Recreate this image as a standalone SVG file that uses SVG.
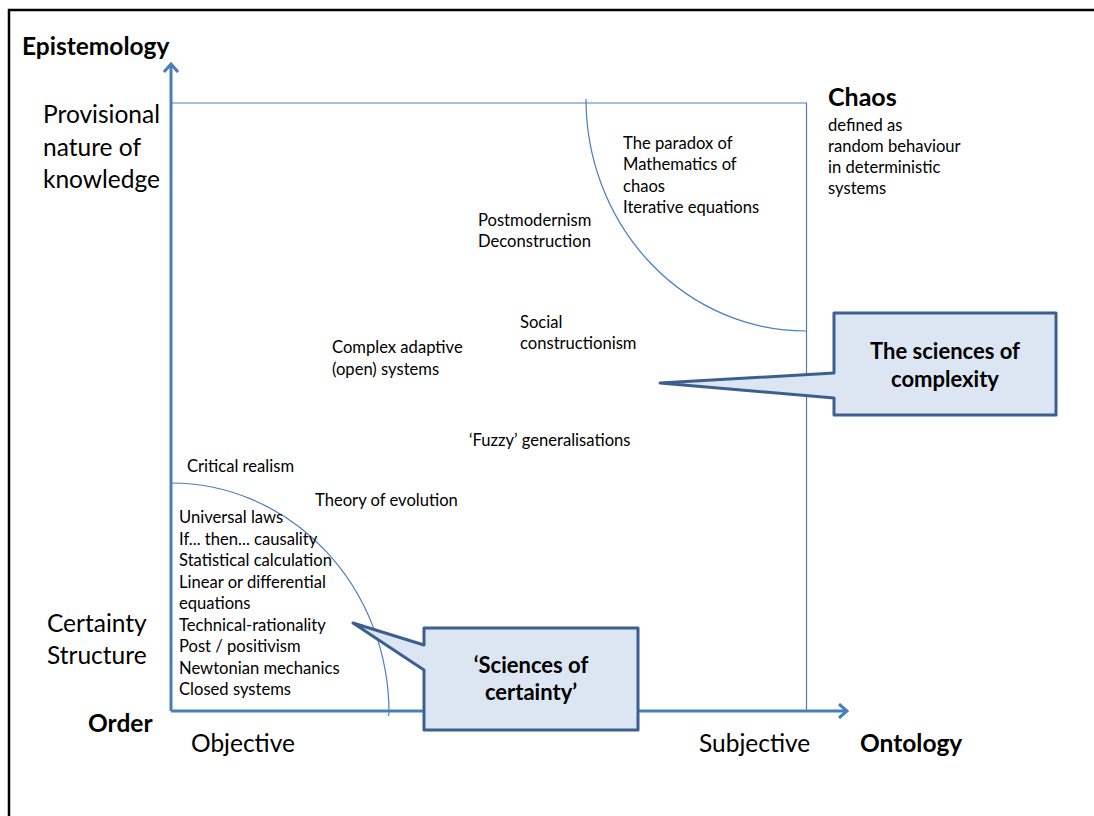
<svg xmlns="http://www.w3.org/2000/svg" width="1094" height="816" viewBox="0 0 1094 816">
  <style>
    text { font-family: Lato, "Liberation Sans", sans-serif; fill: #000; }
    .sm { font-size: 16.6px; }
    .lg { font-size: 24.5px; }
    .bl { font-size: 24.5px; font-weight: bold; }
    .axis { stroke: #4a7ebb; stroke-width: 3; fill: none; }
    .thin { stroke: #4a7ebb; stroke-width: 1.2; fill: none; }
    .callout { fill: #dce6f2; stroke: #3d5f8f; stroke-width: 3; stroke-linejoin: round; }
    .ctext { font-size: 22px; font-weight: bold; text-anchor: middle; }
  </style>
  <defs>
    <marker id="chev" viewBox="0 0 12 16" refX="10" refY="8" markerWidth="12" markerHeight="16" markerUnits="userSpaceOnUse" orient="auto">
      <path d="M2,1 L10,8 L2,15" fill="none" stroke="#4a7ebb" stroke-width="3"/>
    </marker>
  </defs>

  <rect width="1094" height="816" fill="#fff"/>

  <!-- page frame -->
  <path d="M9,816 V10 H1094" fill="none" stroke="#000" stroke-width="2.5"/>

  <g id="connectors">
    <!-- quadrant outline and boundary arcs -->
    <path class="thin" d="M171,103 H806.5 V711"/>
    <path class="thin" d="M586,99 A220,232 0 0 0 806.5,331"/>
    <path class="thin" d="M171,483 A218,230 0 0 1 389,713 L388.5,716"/>
    <!-- axes -->
    <line id="y-axis" class="axis" x1="171" y1="711" x2="171" y2="64" marker-end="url(#chev)"/>
    <line id="x-axis" class="axis" x1="171" y1="711" x2="847" y2="711" marker-end="url(#chev)"/>
  </g>

  <!-- axis labels -->
  <g id="axis-labels">
    <text class="bl" x="22" y="55">Epistemology</text>
    <text class="lg" x="43" y="123">Provisional</text>
    <text class="lg" x="43" y="156">nature of</text>
    <text class="lg" x="43" y="188">knowledge</text>
    <text class="lg" x="47" y="632">Certainty</text>
    <text class="lg" x="47" y="664">Structure</text>
    <text class="bl" x="88" y="732">Order</text>
    <text class="lg" x="191" y="752">Objective</text>
    <text class="lg" x="699" y="752">Subjective</text>
    <text class="bl" x="860" y="752">Ontology</text>
  </g>

  <g id="chaos">
    <text x="828" y="106" font-size="25" font-weight="bold">Chaos</text>
    <text class="sm" x="828" y="131">defined as</text>
    <text class="sm" x="828" y="152">random behaviour</text>
    <text class="sm" x="828" y="173">in deterministic</text>
    <text class="sm" x="828" y="194">systems</text>
  </g>

  <g id="chaos-maths">
    <text class="sm" x="623" y="149">The paradox of</text>
    <text class="sm" x="623" y="170">Mathematics of</text>
    <text class="sm" x="623" y="192">chaos</text>
    <text class="sm" x="623" y="213">Iterative equations</text>
  </g>

  <g id="postmodernism">
    <text class="sm" x="478" y="226">Postmodernism</text>
    <text class="sm" x="478" y="247">Deconstruction</text>
  </g>

  <g id="social-constructionism">
    <text class="sm" x="520" y="328">Social</text>
    <text class="sm" x="520" y="349">constructionism</text>
  </g>

  <g id="complex-adaptive">
    <text class="sm" x="332" y="353">Complex adaptive</text>
    <text class="sm" x="332" y="375">(open) systems</text>
  </g>

  <g id="fuzzy">
    <text class="sm" x="469" y="446">‘Fuzzy’ generalisations</text>
  </g>

  <g id="critical-realism">
    <text class="sm" x="187" y="472">Critical realism</text>
  </g>

  <g id="evolution">
    <text class="sm" x="315" y="506">Theory of evolution</text>
  </g>

  <g id="certainty-list">
    <text class="sm" x="179" y="523">Universal laws</text>
    <text class="sm" x="179" y="545">If... then... causality</text>
    <text class="sm" x="179" y="566">Statistical calculation</text>
    <text class="sm" x="179" y="588">Linear or differential</text>
    <text class="sm" x="179" y="609">equations</text>
    <text class="sm" x="179" y="631">Technical-rationality</text>
    <text class="sm" x="179" y="652">Post / positivism</text>
    <text class="sm" x="179" y="674">Newtonian mechanics</text>
    <text class="sm" x="179" y="695">Closed systems</text>
  </g>

  <g id="callout-complexity">
    <path class="callout" d="M834,313 H1056 V415 H834 V398 L660,383 L834,373 Z"/>
    <text class="ctext" x="945" y="359">The sciences of</text>
    <text class="ctext" x="945" y="387">complexity</text>
  </g>

  <g id="callout-certainty">
    <path class="callout" d="M424,628 H638 V730 H424 V670 L353,623 L424,645 Z"/>
    <text class="ctext" x="531" y="673">‘Sciences of</text>
    <text class="ctext" x="531" y="700">certainty’</text>
  </g>
</svg>
